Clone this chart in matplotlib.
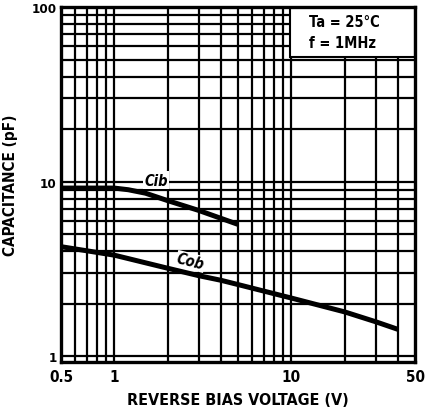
import numpy as np
import matplotlib
matplotlib.use('Agg')
import matplotlib.pyplot as plt
from matplotlib.patches import Rectangle
from matplotlib.ticker import FixedLocator, NullFormatter

# values
cib_v = [0.5, 1.0, 1.2, 1.5, 2.0, 3.0, 5.0]
cib_c = [9.2, 9.2, 9.0, 8.6, 7.8, 6.85, 5.7]

cob_v = [0.5, 1.0, 2.0, 3.0, 4.0, 5.0, 10.0, 20.0, 30.0, 40.0]
cob_c = [4.25, 3.8, 3.2, 2.9, 2.73, 2.58, 2.16, 1.8, 1.58, 1.43]

x_ticks = [0.5, 1, 10, 50]
x_labels = ['0.5', '1', '10', '50']
y_ticks = [1, 10, 100]
y_labels = ['1', '10', '100']

x_grid = [0.6, 0.7, 0.8, 0.9, 1, 2, 3, 4, 5, 6, 7, 8, 9, 10, 20, 30, 40]
y_grid = [1, 2, 3, 4, 5, 6, 7, 8, 9, 10, 20, 30, 40, 50, 60, 70, 80, 90]

plt.rcParams['font.family'] = ['DejaVu Sans']
plt.rcParams['font.stretch'] = 'condensed'
plt.rcParams['font.weight'] = 'bold'
plt.rcParams['axes.labelweight'] = 'bold'

fig = plt.figure(figsize=(4.34, 4.14), dpi=100)
ax = fig.add_axes([0.1406, 0.1232, 0.8157, 0.8575])
ax.set_xscale('log')
ax.set_yscale('log')
ax.set_xlim(0.5, 50)
ax.set_ylim(0.93, 100)

# the grid is drawn by hand so we control every line
for xv in x_grid:
  ax.axvline(xv, color='black', lw=1.6, zorder=1)
for yv in y_grid:
  ax.axhline(yv, color='black', lw=1.6, zorder=1)

ax.plot(cib_v, cib_c, color='black', lw=3.6, solid_capstyle='butt', zorder=3)
ax.plot(cob_v, cob_c, color='black', lw=3.6, solid_capstyle='butt', zorder=3)

ax.text(1.72, 10.2, 'Cib', fontsize=10.5, style='italic', ha='center', va='center',
        bbox=dict(facecolor='white', edgecolor='none', pad=1.0), zorder=2)
ax.text(2.7, 3.5, 'Cob', fontsize=10.5, style='italic', ha='center', va='center',
        rotation=-14, bbox=dict(facecolor='white', edgecolor='none', pad=0.5), zorder=2)

# condition box in the corner
ax.add_patch(Rectangle((0.647, 0.859), 0.353, 0.141, transform=ax.transAxes,
                       facecolor='white', edgecolor='black', lw=1.5, zorder=5))
ax.text(0.80, 0.958, 'Ta = 25°C', transform=ax.transAxes, fontsize=10.5,
        ha='center', va='center', zorder=6)
ax.text(0.795, 0.901, 'f = 1MHz', transform=ax.transAxes, fontsize=10.5,
        ha='center', va='center', zorder=6)

ax.xaxis.set_major_locator(FixedLocator(x_ticks))
ax.set_xticklabels(x_labels)
ax.xaxis.set_minor_formatter(NullFormatter())
ax.yaxis.set_major_locator(FixedLocator(y_ticks))
ax.set_yticklabels(y_labels)
ax.yaxis.set_minor_formatter(NullFormatter())
ax.tick_params(which='both', length=0)
ax.tick_params(axis='x', pad=5, labelsize=11)
ax.tick_params(axis='y', pad=3, labelsize=9.5)

for s in ax.spines.values():
  s.set_linewidth(2.4)
  s.set_zorder(7)

ax.set_xlabel('REVERSE BIAS VOLTAGE (V)', fontsize=11.5, labelpad=6)
ax.set_ylabel('CAPACITANCE (pF)', fontsize=11, labelpad=10)

plt.savefig('out.png', dpi=100)
